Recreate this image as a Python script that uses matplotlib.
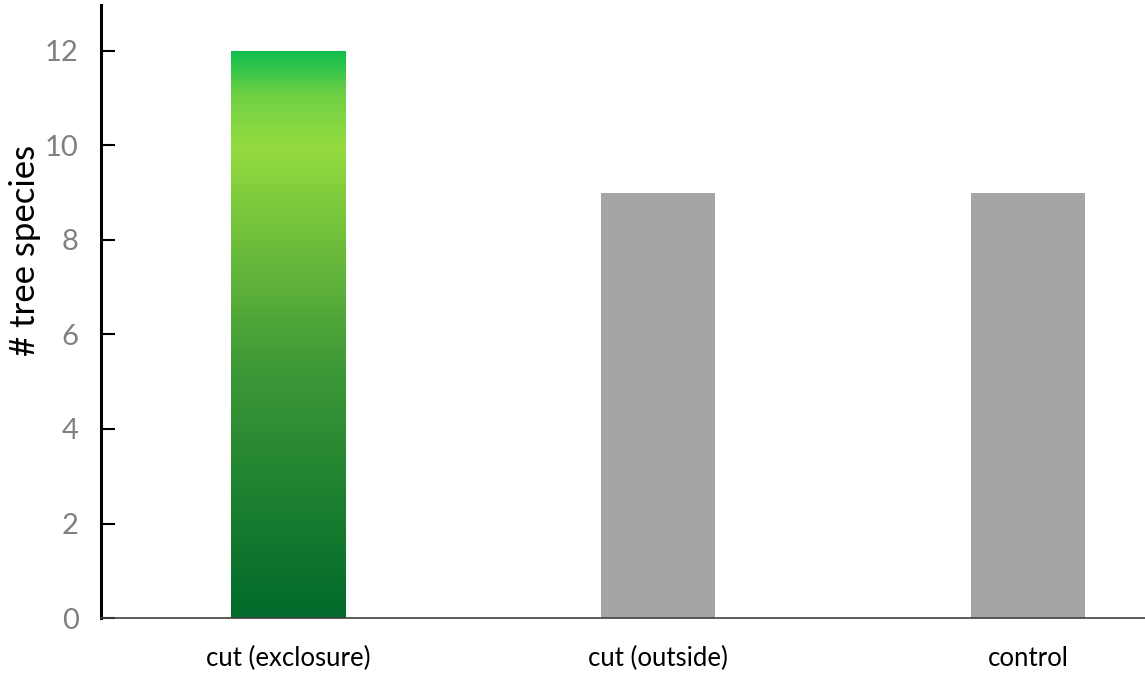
import numpy as np
import matplotlib.pyplot as plt
from matplotlib.colors import LinearSegmentedColormap

categories = ['cut (exclosure)', 'cut (outside)', 'control']
n_species = [12, 9, 9]
yticks = [0, 2, 4, 6, 8, 10, 12]

plt.rcParams['font.family'] = ['Lato', 'DejaVu Sans']

fig = plt.figure(figsize=(11.45, 6.77), dpi=100)
ax = fig.add_axes([0.0882, 0.0871, 0.9118, 0.9055])

x = np.arange(len(categories))
bars = ax.bar(x, n_species, width=0.31, color='#a5a5a5', zorder=2)

# green gradient on the first bar
grad = LinearSegmentedColormap.from_list('grn', [
    (0.0, '#006a2b'), (0.45, '#3f9a37'), (0.83, '#94db3f'), (0.92, '#72d144'), (1.0, '#0dbd4e')])
b = bars[0]
b.set_facecolor('none')
x0, w, h = b.get_x(), b.get_width(), b.get_height()
img = ax.imshow(np.linspace(0, 1, 256).reshape(-1, 1), cmap=grad, origin='lower',
                extent=[x0, x0 + w, 0, h], aspect='auto', zorder=2)
img.set_clip_path(b)

ax.set_xlim(-0.505, 2.316)
ax.set_ylim(0, 12.97)
ax.set_yticks(yticks)
ax.set_xticks(x)
ax.set_xticklabels(categories, fontsize=18.5, color='black')
ax.tick_params(axis='x', length=0, pad=20)
ax.tick_params(axis='y', direction='in', length=10, width=1.5, colors='black',
               labelcolor='#808080', labelsize=21, pad=16)
ax.set_ylabel('# tree species', fontsize=25)
ax.yaxis.set_label_coords(-0.057, 0.6)

for s in ['top', 'right']:
    ax.spines[s].set_visible(False)
ax.spines['left'].set_linewidth(2.2)
ax.spines['bottom'].set_linewidth(1.2)
ax.spines['bottom'].set_color('#404040')

fig.savefig('out.png', dpi=100)
